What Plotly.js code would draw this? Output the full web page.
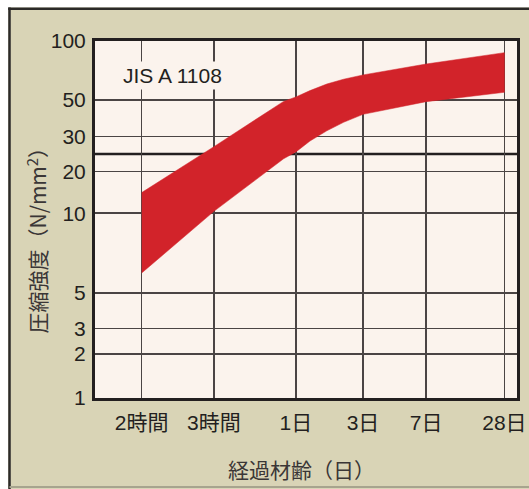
<!DOCTYPE html>
<html><head><meta charset="utf-8">
<script src="https://cdn.plot.ly/plotly-3.0.1.min.js"></script>
<style>html,body{margin:0;padding:0;background:#fff;} #chart{width:529px;height:489px;}</style>
</head><body><div id="chart"></div>
<script>
// ---- data ----
const categories = ['2時間','3時間','1日','3日','7日','28日'];
const samplePos = [0, 1, 1.85, 2, 2.21, 2.46, 2.71, 3, 4, 5];          // position along the age axis (category index)
const upperStrength = [14.1, 26.7, 49.0, 51.8, 55.8, 60.3, 63.8, 67.1, 76.3, 87.2];
const lowerStrength = [5.95, 10.3, 23.2, 25.1, 28.5, 32.5, 36.6, 40.9, 48.8, 54.7];
const yTickVals = [1, 2, 3, 5, 10, 20, 30, 50, 100];
const refStrength = [24.5];
const labelText = 'JIS A 1108';

// ---- scale definition (layout of the printed, hand-spaced axes) ----
const yTickFrac = [0, 0.1231, 0.1940, 0.2939, 0.5178, 0.6342, 0.7322, 0.8349, 1];
const xCatOffset = [0, 72.2, 154.2, 221.3, 284.4, 362.7];

function yScale(v) {
  const lv = Math.log10(v);
  for (let i = 0; i < yTickVals.length - 1; i++) {
    const a = Math.log10(yTickVals[i]), b = Math.log10(yTickVals[i + 1]);
    if (lv <= b || i === yTickVals.length - 2) {
      return yTickFrac[i] + (lv - a) / (b - a) * (yTickFrac[i + 1] - yTickFrac[i]);
    }
  }
}
function xScale(p) {
  const i = Math.max(0, Math.min(Math.floor(p), xCatOffset.length - 2));
  return xCatOffset[i] + (p - i) * (xCatOffset[i + 1] - xCatOffset[i]);
}

const bandX = samplePos.map(xScale).concat(samplePos.slice().reverse().map(xScale));
const bandY = upperStrength.map(yScale).concat(lowerStrength.slice().reverse().map(yScale));

const RED = '#d2232a', CREAM = '#fbf3ed', BEIGE = '#d9d4b6', INK = '#231f20', GRID = '#4a4444';
const FONT = 'Liberation Sans, Arial, Noto Sans CJK JP, sans-serif';

const W = 529, H = 489, L = 95, R = 12, T = 41, B = 91;
const pw = W - L - R, ph = H - T - B;
const px = p => (p - L) / pw;            // pixel -> paper
const py = p => (H - B - p) / ph;

const traces = [{
  type: 'scatter', mode: 'lines', x: bandX, y: bandY, fill: 'toself',
  fillcolor: RED, line: {color: RED, width: 0.5}, hoverinfo: 'skip', showlegend: false
}];

const layout = {
  width: W, height: H,
  margin: {l: L, r: R, t: T, b: B, pad: 0},
  paper_bgcolor: BEIGE, plot_bgcolor: CREAM,
  font: {family: FONT, color: INK, size: 21},
  showlegend: false,
  xaxis: {
    range: [-46.7, 375.3], fixedrange: true,
    tickmode: 'array', tickvals: categories.map((c, i) => xScale(i)), ticktext: categories,
    showgrid: true, gridcolor: GRID, gridwidth: 1.5, zeroline: false,
    showline: true, mirror: true, linecolor: INK, linewidth: 3,
    ticks: '', ticklabelstandoff: 4, tickfont: {size: 21, color: INK}
  },
  yaxis: {
    range: [0, 1], fixedrange: true,
    tickmode: 'array', tickvals: yTickVals.map(yScale), ticktext: yTickVals.map(String),
    showgrid: true, gridcolor: GRID, gridwidth: 1.5, zeroline: false,
    showline: true, mirror: true, linecolor: INK, linewidth: 3,
    ticks: '', ticklabelstandoff: 2, tickfont: {size: 21, color: INK}
  },
  shapes: [
    {type: 'line', xref: 'paper', yref: 'y', x0: 0, x1: 1, y0: yScale(refStrength[0]), y1: yScale(refStrength[0]),
     line: {color: INK, width: 2.5}, layer: 'below'},
    {type: 'rect', xref: 'paper', yref: 'paper', x0: px(-5), x1: px(540), y0: py(7.5), y1: py(-5),
     fillcolor: '#ffffff', line: {width: 0}},
    {type: 'rect', xref: 'paper', yref: 'paper', x0: px(-5), x1: px(8.2), y0: py(495), y1: py(-5),
     fillcolor: '#ffffff', line: {width: 0}},
    {type: 'line', xref: 'paper', yref: 'paper', x0: px(8.2), x1: px(540), y0: py(8.7), y1: py(8.7),
     line: {color: '#2b2a28', width: 2.5}},
    {type: 'line', xref: 'paper', yref: 'paper', x0: px(9.5), x1: px(9.5), y0: py(7.5), y1: py(495),
     line: {color: '#2b2a28', width: 2.5}},
    {type: 'line', xref: 'paper', yref: 'paper', x0: px(9.5), x1: px(540), y0: py(487), y1: py(487),
     line: {color: '#a7a48e', width: 2}}
  ],
  annotations: [
    {xref: 'paper', yref: 'paper', x: px(172), y: py(75), xanchor: 'center', yanchor: 'middle',
     text: labelText, showarrow: false, bgcolor: CREAM, borderpad: 2,
     font: {size: 21, color: INK, family: FONT}},
    {xref: 'paper', yref: 'paper', x: px(301), y: py(469), xanchor: 'center', yanchor: 'middle',
     text: '経過材齢（日）', showarrow: false, font: {size: 21, color: '#3a3636', family: 'Noto Sans CJK JP, sans-serif'}},
    {xref: 'paper', yref: 'paper', x: px(36), y: py(235.5), xanchor: 'center', yanchor: 'middle', textangle: -90,
     text: '圧縮強度（N/mm<sup>2</sup>）', showarrow: false, font: {size: 21, color: '#3a3636', family: 'Noto Sans CJK JP, sans-serif'}}
  ]
};

Plotly.newPlot('chart', traces, layout, {staticPlot: true, displayModeBar: false});
</script>
</body></html>
